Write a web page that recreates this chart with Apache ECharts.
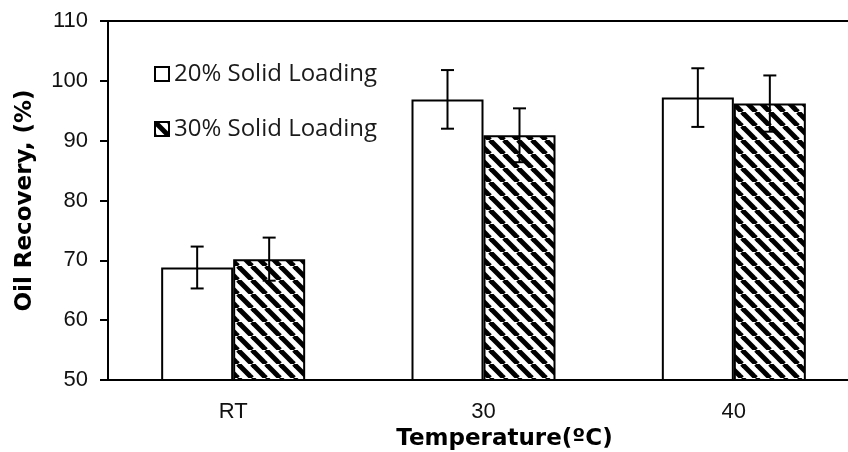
<!DOCTYPE html>
<html>
<head>
<meta charset="utf-8">
<script src="https://cdn.jsdelivr.net/npm/echarts@6/dist/echarts.min.js"></script>
<style>html,body{margin:0;padding:0;background:#fff;overflow:hidden;width:848px;height:452px}#c{width:870px;height:452px}</style>
</head>
<body>
<div id="c"></div>
<script>
var categories = ['RT', '30', '40'];
var seriesNames = ['20% Solid Loading', '30% Solid Loading'];
var recovery20 = [68.8, 96.9, 97.2];
var recovery30 = [70.2, 90.9, 96.2];
var error20 = [3.5, 4.9, 4.9];
var error30 = [3.6, 4.5, 4.7];
var yTicks = [50, 60, 70, 80, 90, 100, 110];

function hatch() {
  var s = 14, c = document.createElement('canvas');
  c.width = s; c.height = s;
  var g = c.getContext('2d');
  g.fillStyle = '#fff'; g.fillRect(0, 0, s, s);
  g.strokeStyle = '#000'; g.lineWidth = 5;
  [-s, 0, s].forEach(function (x0) {
    g.beginPath(); g.moveTo(x0, 0); g.lineTo(x0 + s, s); g.stroke();
  });
  return c;
}
var hatchFill = { image: hatch(), repeat: 'repeat' };

var barW = 72;
function errSeries(vals, errs, off) {
  return {
    type: 'custom',
    z: 10,
    silent: true,
    data: vals.map(function (v, i) { return [i, v, errs[i]]; }),
    renderItem: function (params, api) {
      var i = api.value(0), v = api.value(1), e = api.value(2);
      var hi = api.coord([i, v + e]);
      var lo = api.coord([i, v - e]);
      var x = hi[0] + off;
      var cw = 6.5;
      var st = { stroke: '#000', lineWidth: 2 };
      return {
        type: 'group',
        children: [
          { type: 'line', shape: { x1: x, y1: hi[1], x2: x, y2: lo[1] }, style: st },
          { type: 'line', shape: { x1: x - cw, y1: hi[1], x2: x + cw, y2: hi[1] }, style: st },
          { type: 'line', shape: { x1: x - cw, y1: lo[1], x2: x + cw, y2: lo[1] }, style: st }
        ]
      };
    }
  };
}

var chart = echarts.init(document.getElementById('c'), null, { renderer: 'canvas' });
chart.setOption({
  animation: false,
  backgroundColor: '#fff',
  grid: { left: 108, top: 21, width: 751, height: 359, containLabel: false, outerBoundsMode: 'none',
    show: true, borderColor: '#000', borderWidth: 2, backgroundColor: 'transparent' },
  legend: {
    orient: 'vertical', left: 154, top: 62, itemGap: 31, padding: 0,
    itemWidth: 14, itemHeight: 14, icon: 'rect',
    textStyle: { fontFamily: 'Open Sans', fontSize: 24, color: '#1a1a1a' },
    data: seriesNames
  },
  xAxis: {
    type: 'category', data: categories,
    axisLine: { lineStyle: { color: '#000', width: 2 } },
    axisTick: { show: false },
    axisLabel: { fontFamily: 'Liberation Sans', fontSize: 22, color: '#111', margin: 21 },
    name: 'Temperature(ºC)', nameLocation: 'middle', nameGap: 39,
    nameTextStyle: { fontFamily: 'DejaVu Sans', fontWeight: 'bold', fontSize: 23, color: '#000', padding: [0, 0, 0, 42] }
  },
  yAxis: {
    type: 'value', min: yTicks[0], max: yTicks[yTicks.length - 1], interval: 10,
    splitLine: { show: false },
    axisLine: { show: true, lineStyle: { color: '#000', width: 2 } },
    axisTick: { show: true, length: 8, lineStyle: { color: '#000', width: 2 } },
    axisLabel: { fontFamily: 'Liberation Sans', fontSize: 22, color: '#111', margin: 20 },
    name: 'Oil Recovery, (%)', nameLocation: 'middle', nameGap: 71,
    nameTextStyle: { fontFamily: 'DejaVu Sans', fontWeight: 'bold', fontSize: 23, color: '#000' }
  },
  series: [
    { name: seriesNames[0], type: 'bar', data: recovery20, barWidth: barW, barGap: '0%',
      itemStyle: { color: '#fff', borderColor: '#000', borderWidth: 2 } },
    { name: seriesNames[1], type: 'bar', data: recovery30, barWidth: barW, barGap: '0%',
      itemStyle: { color: hatchFill, borderColor: '#000', borderWidth: 2 } },
    errSeries(recovery20, error20, -barW / 2),
    errSeries(recovery30, error30, barW / 2)
  ]
});
</script>
</body>
</html>
